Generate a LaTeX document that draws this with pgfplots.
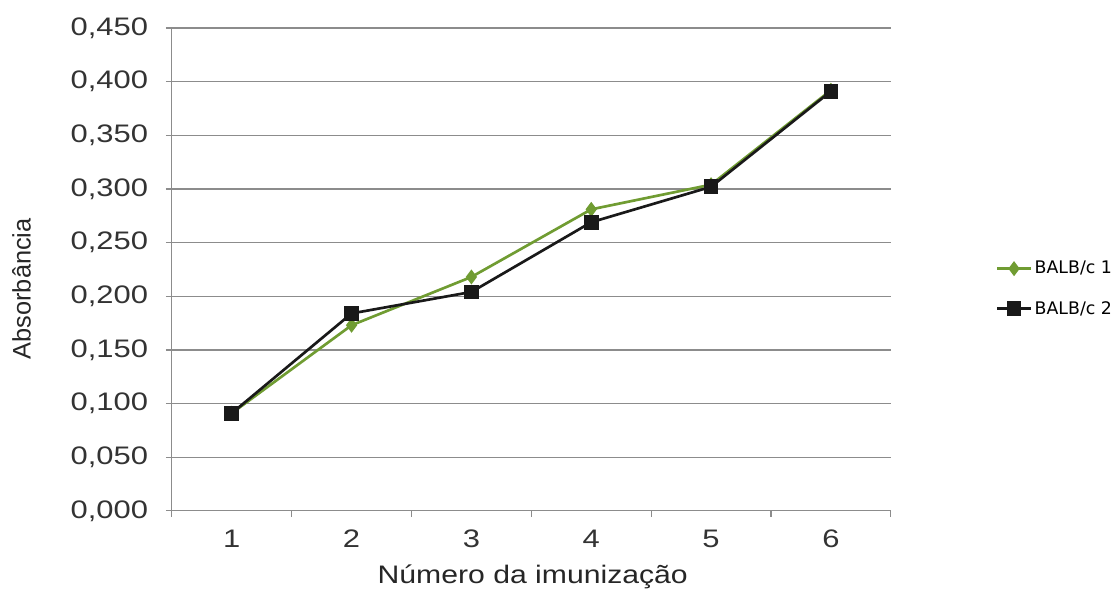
\documentclass[border=0pt]{standalone}
\usepackage{pgfplots}
\pgfplotsset{compat=1.18}
\usepackage{fontspec}
\setmainfont{Liberation Sans}
\newfontfamily\legendfont{DejaVu Sans}
\definecolor{balbgreen}{RGB}{112,156,50}
\definecolor{gridgray}{RGB}{140,140,140}

\begin{document}
\begin{tikzpicture}
\begin{axis}[
  scale only axis, width=539pt, height=362pt,
  xmin=0.5, xmax=6.5, ymin=0, ymax=0.45,
  axis x line*=bottom, axis y line*=left,
  axis line style={gridgray, line width=0.9pt},
  xtick={1,2,3,4,5,6},
  minor xtick={0.5,1.5,2.5,3.5,4.5,5.5,6.5},
  ytick={0,0.05,0.1,0.15,0.2,0.25,0.3,0.35,0.4,0.45},
  ymajorgrids, grid style={gridgray, line width=0.9pt},
  major x tick style={draw=none},
  minor x tick style={gridgray, line width=0.9pt},
  ytick style={gridgray, line width=0.9pt},
  tick align=outside, major tick length=4.5pt, minor tick length=4.5pt,
  tick label style={font=\fontsize{19}{22}\selectfont, text=black!80, xscale=1.22},
  yticklabel shift=9pt, xticklabel shift=6pt,
  /pgf/number format/assume math mode=true,
  y tick label style={/pgf/number format/.cd, fixed, fixed zerofill, precision=3, use comma},
  xlabel={Número da imunização},
  ylabel={Absorbância},
  every axis x label/.style={at={(axis description cs:0.502,-0.137)}, anchor=center,
    font=\fontsize{19}{22}\selectfont, text=black!85, xscale=1.19},
  every axis y label/.style={at={(axis description cs:-0.209,0.46)}, anchor=center, rotate=90,
    font=\fontsize{19}{22}\selectfont, text=black!85},
  legend style={at={(axis description cs:1.146,0.46)}, anchor=west, draw=none, fill=none,
    font=\legendfont\fontsize{13}{15}\selectfont, row sep=15pt, inner sep=0pt},
  legend cell align=left,
  legend image code/.code={\draw[mark repeat=2,mark phase=2,#1] plot coordinates {(0pt,0pt) (12.5pt,0pt) (25pt,0pt)};},
  clip=false,
]
\addplot[balbgreen, line width=2pt, mark=diamond*, mark size=4pt, mark options={solid}]
  coordinates {(1,0.091) (2,0.173) (3,0.218) (4,0.281) (5,0.304) (6,0.392)};
\addlegendentry{BALB/c 1}
\addplot[black!90, line width=2pt, mark=square*, mark size=4.5pt, mark options={solid}]
  coordinates {(1,0.091) (2,0.184) (3,0.204) (4,0.269) (5,0.302) (6,0.391)};
\addlegendentry{BALB/c 2}
\coordinate (bbl) at (rel axis cs:-0.239,-0.1636);
\coordinate (btr) at (rel axis cs:1.316,1.058);
\end{axis}
\pgfresetboundingbox
\path (bbl) rectangle (btr);
\end{tikzpicture}
\end{document}
